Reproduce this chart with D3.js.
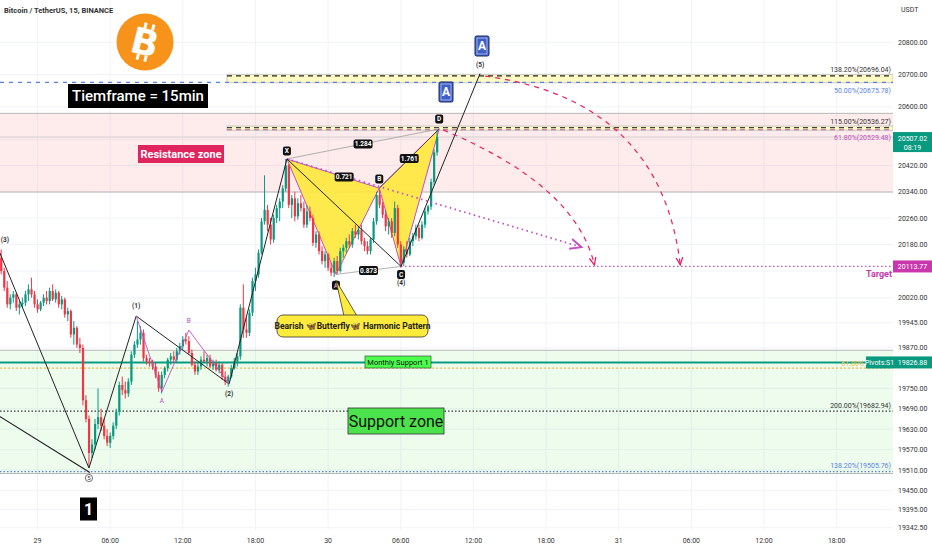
<!DOCTYPE html>
<html><head><meta charset="utf-8">
<script src="https://cdn.jsdelivr.net/npm/d3@7"></script>
<style>body{margin:0;background:#fff;} svg{display:block;font-family:Roboto,"DejaVu Sans",sans-serif;}</style>
</head><body><svg id="c" width="932" height="550"></svg>
<script>
// ---------- DATA (15-min candles, starting 28th 21:00) ----------
const opens=[20140,20100,20050,20000,20020,20030,19990,20000,20005,20030,
20045,20030,20000,19985,20005,20020,20010,20040,20015,20035,
20000,20015,19970,19980,19910,19930,19880,19870,19715,19660,
19560,19585,19645,19665,19640,19610,19590,19610,19640,19680,
19760,19745,19735,19770,19850,19880,19895,19915,19840,19830,
19825,19815,19790,19750,19790,19810,19835,19845,19835,19860,
19875,19895,19890,19855,19820,19800,19815,19835,19830,19840,
19815,19825,19805,19820,19785,19770,19785,19810,19830,19845,
19990,19925,19915,19975,20070,20090,20155,20250,20285,20240,
20195,20260,20290,20310,20350,20420,20300,20320,20265,20305,
20290,20240,20280,20260,20185,20210,20160,20130,20150,20110,
20095,20130,20100,20160,20170,20190,20180,20220,20210,20225,
20190,20175,20160,20195,20250,20330,20300,20270,20235,20250,
20215,20290,20180,20125,20165,20150,20190,20205,20230,20200,
20240,20280,20295,20370,20460];
const highs=[20165,20110,20070,20030,20040,20035,20010,20020,20040,20060,
20080,20040,20015,20010,20030,20040,20050,20060,20045,20040,
20025,20020,19990,19985,19950,19935,19900,19880,19730,19670,
19600,19660,19750,19690,19660,19630,19620,19650,19690,19770,
19785,19770,19780,19860,19890,19950,19935,19925,19850,19840,
19835,19825,19800,19800,19815,19840,19855,19860,19870,19885,
19905,19915,19905,19865,19830,19825,19845,19860,19850,19850,
19835,19835,19830,19825,19800,19790,19820,19840,19855,20000,
20060,19960,19985,20080,20110,20165,20260,20390,20300,20260,
20270,20300,20320,20360,20440,20425,20330,20340,20320,20330,
20310,20300,20295,20270,20220,20220,20175,20160,20155,20125,
20140,20145,20170,20180,20200,20210,20230,20240,20235,20240,
20200,20190,20200,20260,20340,20345,20310,20285,20260,20260,
20310,20300,20190,20175,20190,20200,20215,20240,20240,20250,
20290,20300,20380,20470,20530];
const lows=[20090,20040,19990,19985,20005,19980,19970,19990,19995,20010,
20020,19990,19975,19980,19995,20000,20000,20010,20005,19990,
19985,19960,19950,19900,19880,19870,19855,19700,19650,19520,
19545,19570,19630,19625,19600,19580,19575,19600,19630,19670,
19730,19720,19725,19760,19840,19870,19880,19830,19820,19815,
19805,19780,19740,19735,19780,19800,19820,19825,19825,19850,
19865,19880,19850,19815,19790,19790,19805,19825,19815,19810,
19805,19800,19795,19775,19760,19755,19780,19805,19815,19835,
19900,19900,19905,19965,20040,20080,20150,20240,20220,20180,
20185,20245,20250,20290,20340,20290,20260,20250,20255,20280,
20230,20230,20250,20175,20170,20150,20120,20110,20100,20085,
20082,20090,20095,20140,20155,20170,20170,20200,20195,20180,
20160,20150,20150,20185,20240,20290,20260,20220,20210,20200,
20205,20170,20110,20115,20140,20145,20175,20195,20190,20195,
20230,20270,20285,20360,20450];
const closes=[20100,20050,20000,20020,20030,19990,20000,20005,20030,20045,
20030,20000,19985,20005,20020,20010,20040,20015,20035,20000,
20015,19970,19980,19910,19930,19880,19870,19715,19660,19560,
19585,19645,19665,19640,19610,19590,19610,19640,19680,19760,
19745,19735,19770,19850,19880,19895,19915,19840,19830,19825,
19815,19790,19750,19790,19810,19835,19845,19835,19860,19875,
19895,19890,19855,19820,19800,19815,19835,19830,19840,19815,
19825,19805,19820,19785,19770,19785,19810,19830,19845,19990,
19925,19915,19975,20070,20090,20155,20250,20285,20240,20195,
20260,20290,20310,20350,20420,20300,20320,20265,20305,20290,
20240,20280,20260,20185,20210,20160,20130,20150,20110,20095,
20130,20100,20160,20170,20190,20180,20220,20210,20225,20190,
20175,20160,20195,20250,20330,20300,20270,20235,20250,20215,
20290,20180,20125,20165,20150,20190,20205,20230,20200,20240,
20280,20295,20370,20460,20507.02];

const gridTicks=[20800,20700,20600,20500,20420,20340,20260,20180,20100,20020,19945,19870,19810,19750,19690,19630,19570,19510,19450,19395,19342.5];
const priceTickLabels=[20800,20700,20600,20420,20340,20260,20180,20020,19945,19870,19750,19690,19630,19570,19510,19450,19395,19342.5];
const timeTickLabels=["29","06:00","12:00","18:00","30","06:00","12:00","18:00","31","06:00","12:00","18:00"];

// Fibonacci levels
const fibPrices=[20696.04,20675.78,20536.27,20529.48,19682.94,19505.76];
const fibLabels=["138.20%(20696.04)","50.00%(20675.78)","115.00%(20536.27)","61.80%(20529.48)","200.00%(19682.94)","138.20%(19505.76)"];
const resistanceZone=[20339,20580];
const supportZone=[19500,19863];
const pivotS1=19826.88, fibGold=19810, targetPrice=20113.77, lastPrice=20507.02;

// harmonic XABCD: [bar index, price]
const harmonicNames=["X","A","B","C","D"];
const harmonicPts=[[94.4,20440],[110.6,20090],[124.9,20351],[132.1,20113.77],[144.7,20532]];
const harmonicRatios=["0.721","0.873","1.761","1.284"];
// Elliott waves
const waveNames=["(3)","5","(1)","(2)","(3)","(4)","(5)"];
const wavePts=[[-2.5,20200],[29,19516],[44.6,19965],[75.3,19763],[94.4,20440],[132.1,20113.77],[158.2,20703]];
const abcPts=[[44.6,19965],[53.1,19740],[62,19923],[75.3,19763]];
const trendPts=[[-1,19670],[29.3,19503]];
const xbExtEnd=[191.3,20173];
const curve1=[[146,20529],[189.6,20361],[195.9,20121]];
const curve2=[[159.9,20695],[217.7,20621],[224.3,20121]];

// ---------- SCALES ----------
const svg=d3.select('#c');
const plotR=893, plotB=530;
const t0=Date.UTC(2022,9,28,21,0), barMs=15*60*1000;
const tOf=i=>new Date(t0+i*barMs);
const x=d3.scaleUtc().domain([new Date(Date.UTC(2022,9,29)),new Date(Date.UTC(2022,9,31))]).range([37.5,618.7]);
const y=d3.scaleLog().domain([19342.5,20800]).range([527.7,42.3]);
const X=i=>x(tOf(i)), Y=p=>y(p);
const timeTicks=d3.range(12).map(k=>new Date(Date.UTC(2022,9,29)+k*6*3600*1000));

svg.append('rect').attr('width',932).attr('height',550).attr('fill','#fff');
const defs=svg.append('defs');
defs.append('clipPath').attr('id','pc').append('rect').attr('x',0).attr('y',0).attr('width',plotR).attr('height',plotB);
function arrowMarker(id,color){
  defs.append('marker').attr('id',id).attr('viewBox','0 0 10 10').attr('refX',8).attr('refY',5)
   .attr('markerWidth',7).attr('markerHeight',7).attr('orient','auto')
   .append('path').attr('d','M0,1 L9,5 L0,9').attr('fill','none').attr('stroke',color).attr('stroke-width',1.5);
}
arrowMarker('arR','#e91e63'); arrowMarker('arP','#c34fc0');

const g=svg.append('g').attr('clip-path','url(#pc)');
// grid
g.selectAll('.hg').data(gridTicks).join('line').attr('x1',0).attr('x2',plotR)
 .attr('y1',d=>Y(d)).attr('y2',d=>Y(d)).attr('stroke','#f0f3fa');
g.selectAll('.vg').data(timeTicks).join('line').attr('y1',0).attr('y2',plotB)
 .attr('x1',d=>x(d)).attr('x2',d=>x(d)).attr('stroke','#f0f3fa');

// zones
function zone(z,fill){
  g.append('rect').attr('x',0).attr('width',plotR).attr('y',Y(z[1])).attr('height',Y(z[0])-Y(z[1])).attr('fill',fill);
  [z[0],z[1]].forEach(p=>g.append('line').attr('x1',0).attr('x2',plotR).attr('y1',Y(p)).attr('y2',Y(p)).attr('stroke','#b8b8b8').attr('stroke-width',1));
}
zone(resistanceZone,'rgba(242,54,69,0.10)');
zone(supportZone,'rgba(60,220,60,0.09)');

// current price line
g.append('line').attr('x1',0).attr('x2',plotR).attr('y1',Y(lastPrice)).attr('y2',Y(lastPrice)).attr('stroke','#d0d0d0');

// fib yellow bands
const bandX0=X(74.6);
[[fibPrices[0],fibPrices[1]],[fibPrices[2],fibPrices[3]]].forEach(b=>{
  g.append('rect').attr('x',bandX0).attr('width',plotR-bandX0).attr('y',Y(b[0])-1.5).attr('height',Y(b[1])-Y(b[0])+2)
   .attr('fill','#fff9c4').attr('stroke','#bdbdbd').attr('stroke-width',0.8);
});
function hline(p,x0,color,dash,w){
  g.append('line').attr('x1',x0).attr('x2',plotR).attr('y1',Y(p)).attr('y2',Y(p))
   .attr('stroke',color).attr('stroke-width',w||1).attr('stroke-dasharray',dash);
}
hline(fibPrices[0],bandX0,'#222','5,4',1.3);
hline(fibPrices[1],0,'#5b7fe0','4,5',1.3);
hline(fibPrices[2],bandX0,'#444','5,4',1.3);
hline(fibPrices[3],bandX0,'#c060a0','5,4',1.1);
hline(fibPrices[4],0,'#333','1.5,2',1.3);
hline(fibPrices[5],0,'#5b7fe0','1.5,2',1.3);
hline(fibGold,0,'#f2c14e','2,2',1.3);
hline(pivotS1,0,'#089981',null,2);
hline(targetPrice,X(132.1),'#c34fc0','1.5,2.5',1.3);

// harmonic fills (under candles)
const hp=harmonicPts.map(d=>[X(d[0]),Y(d[1])]);
[[0,1,2],[2,3,4]].forEach(t=>{
  g.append('path').attr('d','M'+t.map(k=>hp[k].join(',')).join('L')+'Z')
   .attr('fill','#ffe83b').attr('fill-opacity',0.9).attr('stroke','#c34fc0').attr('stroke-width',1);
});

// candles
const bars=d3.range(opens.length);
const cg=g.append('g');
cg.selectAll('.w').data(bars).join('line').attr('x1',i=>X(i)).attr('x2',i=>X(i))
 .attr('y1',i=>Y(highs[i])).attr('y2',i=>Y(lows[i]))
 .attr('stroke',i=>closes[i]>=opens[i]?'#089981':'#f23645').attr('stroke-width',1);
cg.selectAll('.b').data(bars).join('rect').attr('x',i=>X(i)-1).attr('width',2.2)
 .attr('y',i=>Y(Math.max(opens[i],closes[i])))
 .attr('height',i=>Math.max(1,Math.abs(Y(opens[i])-Y(closes[i]))))
 .attr('fill',i=>closes[i]>=opens[i]?'#089981':'#f23645');

// harmonic ratio lines
const line=d3.line();
g.append('path').attr('d',line([hp[0],hp[4]])).attr('stroke','#9e9e9e').attr('fill','none').attr('stroke-width',0.8);
g.append('path').attr('d',line([hp[1],hp[3]])).attr('stroke','#9e9e9e').attr('fill','none').attr('stroke-width',0.8);
g.append('path').attr('d',line([hp[2],hp[4]])).attr('stroke','#333').attr('fill','none').attr('stroke-width',0.8);
g.append('path').attr('d',line([hp[0],[X(xbExtEnd[0]),Y(xbExtEnd[1])]])).attr('stroke','#c34fc0').attr('fill','none')
 .attr('stroke-width',1.8).attr('stroke-dasharray','1.5,3.5').attr('marker-end','url(#arP)');

// Elliott lines
const wp=wavePts.map(d=>[X(d[0]),Y(d[1])]);
g.append('path').attr('d',line(wp)).attr('stroke','#222').attr('fill','none').attr('stroke-width',1);
g.append('path').attr('d',line(trendPts.map(d=>[X(d[0]),Y(d[1])]))).attr('stroke','#222').attr('fill','none').attr('stroke-width',1.2);
g.append('path').attr('d',line(abcPts.map(d=>[X(d[0]),Y(d[1])]))).attr('stroke','#c34fc0').attr('fill','none').attr('stroke-width',0.9);

// curved projections
[curve1,curve2].forEach(c=>{
  const p=c.map(d=>[X(d[0]),Y(d[1])]);
  g.append('path').attr('d',`M${p[0]}Q${p[1]} ${p[2]}`).attr('fill','none').attr('stroke','#e91e63')
   .attr('stroke-width',1.2).attr('stroke-dasharray','5,5').attr('marker-end','url(#arR)');
});

// ---------- LABELS ----------
function box(cx,cy,w,h,fill,text,opt){
  opt=opt||{};
  svg.append('rect').attr('x',cx-w/2).attr('y',cy-h/2).attr('width',w).attr('height',h).attr('rx',opt.rx||0)
   .attr('fill',fill).attr('stroke',opt.stroke||'none').attr('stroke-width',opt.sw||1);
  svg.append('text').attr('x',cx).attr('y',cy).attr('dy','0.35em').attr('text-anchor','middle')
   .attr('font-size',opt.fs||8).attr('font-weight',opt.fw||'normal').attr('fill',opt.color||'#fff')
   .attr('font-family',opt.ff||null).text(text);
}
// harmonic point labels
const hOff=[-8,11,-9,8,-10];
harmonicNames.forEach((n,k)=>box(hp[k][0],hp[k][1]+hOff[k],8,9,'#111',n,{rx:2,fs:6.5,fw:'bold',color:n==='A'?'#f48fb1':'#fff'}));
// ratio labels
const mid=(a,b,t)=>[a[0]+(b[0]-a[0])*t,a[1]+(b[1]-a[1])*t];
[[hp[0],hp[2],0.62],[hp[1],hp[3],0.5],[hp[2],hp[4],0.5],[hp[0],hp[4],0.5]].forEach((s,k)=>{
  const m=mid(s[0],s[1],s[2]); box(m[0],m[1],19,9,'#111',harmonicRatios[k],{rx:2,fs:6.5,fw:'bold'});
});
// wave labels
const wOff=[2,10,-10,10,0,16,-9];
waveNames.forEach((n,k)=>{
  if(k===4) return;
  if(n==='5'){
    svg.append('circle').attr('cx',wp[k][0]).attr('cy',wp[k][1]+10).attr('r',3.6).attr('fill','none').attr('stroke','#333').attr('stroke-width',0.7);
    svg.append('text').attr('x',wp[k][0]).attr('y',wp[k][1]+10).attr('dy','0.35em').attr('text-anchor','middle').attr('font-size',6).attr('fill','#333').text(n);
    return;
  }
  const px=Math.max(wp[k][0],5);
  svg.append('text').attr('x',px).attr('y',wp[k][1]+wOff[k]).attr('dy','0.35em').attr('text-anchor','middle')
   .attr('font-size',6.5).attr('font-weight','bold').attr('fill','#333').text(n);
});
const ap=abcPts.map(d=>[X(d[0]),Y(d[1])]);
svg.append('text').attr('x',ap[1][0]).attr('y',ap[1][1]+11).attr('text-anchor','middle').attr('font-size',6.5).attr('fill','#c34fc0').text('A');
svg.append('text').attr('x',ap[2][0]).attr('y',ap[2][1]-7).attr('text-anchor','middle').attr('font-size',6.5).attr('fill','#c34fc0').text('B');

// callout
svg.append('path').attr('d',`M${hp[1][0]},${hp[1][1]+6}L${hp[1][0]+8},316L${hp[1][0]+21},316Z`).attr('fill','#ffeb3b').attr('stroke','#333').attr('stroke-width',0.8);
box(352.5,326,151,22,'#ffeb3b','Bearish 🦋Butterfly🦋 Harmonic Pattern',{rx:6,stroke:'#333',sw:0.8,color:'#222',fs:8.5,fw:'bold'});

// fib labels
const fibColors=['#333','#5b7fe0','#333','#c34fc0','#333','#5b7fe0'];
const fibDy=[-6,8,-6,8,-6,-6];
fibPrices.forEach((p,k)=>svg.append('text').attr('x',891).attr('y',Y(p)+fibDy[k]).attr('dy','0.35em').attr('text-anchor','end')
  .attr('font-size',7).attr('fill',fibColors[k]).text(fibLabels[k]));
svg.append('text').attr('x',864).attr('y',Y(pivotS1)+1).attr('dy','0.35em').attr('text-anchor','end').attr('font-size',7).attr('fill','#f2c14e').text('61.80%');

// text boxes
box(138,96,140,24,'#000','Tiemframe = 15min',{fs:15,fw:'500'});
box(181,154,86,18,'#e0245e','Resistance zone',{fs:11,fw:'bold'});
box(396,421,96,26,'#4ce24c','Support zone',{fs:16,color:'#111',stroke:'#333',sw:0.8});
box(398,362,66,12,'#4cff4c','Monthly Support 1',{fs:7.5,color:'#111',stroke:'#333',sw:0.6});
box(88.5,509,17,23,'#000','1',{fs:16,fw:'bold'});
// blue A icons
[[482,46],[446,92]].forEach(c=>{
  svg.append('rect').attr('x',c[0]-7).attr('y',c[1]-10).attr('width',14).attr('height',20).attr('rx',1.5).attr('fill','#3f5fc8').attr('stroke','#1a2a5e').attr('stroke-width',1);
  svg.append('rect').attr('x',c[0]-5).attr('y',c[1]-8).attr('width',10).attr('height',16).attr('fill','none').attr('stroke','#dfe6ff').attr('stroke-width',0.6);
  svg.append('text').attr('x',c[0]).attr('y',c[1]).attr('dy','0.36em').attr('text-anchor','middle').attr('font-size',12).attr('font-weight','bold').attr('fill','#fff').text('A');
});
// bitcoin logo
svg.append('circle').attr('cx',145).attr('cy',42).attr('r',28.5).attr('fill','#f7931a');
const bt=svg.append('g').attr('transform','translate(145,42) rotate(14)');
bt.append('text').attr('x',0).attr('y',0).attr('dy','0.36em').attr('text-anchor','middle').attr('font-size',36).attr('font-weight','bold').attr('fill','#fff').attr('font-family','DejaVu Sans').text('B');
[-5,3].forEach(dx=>{bt.append('rect').attr('x',dx).attr('y',-19).attr('width',3).attr('height',6).attr('fill','#fff');
  bt.append('rect').attr('x',dx).attr('y',13).attr('width',3).attr('height',6).attr('fill','#fff');});

// title
svg.append('text').attr('x',4).attr('y',13).attr('font-size',7.5).attr('font-weight','bold').attr('fill','#333').text('Bitcoin / TetherUS, 15, BINANCE');
svg.append('text').attr('x',901).attr('y',12).attr('font-size',7).attr('fill','#333').text('USDT');

// price axis
svg.selectAll('.pt').data(priceTickLabels).join('text').attr('x',898).attr('y',d=>Y(d)).attr('dy','0.35em')
 .attr('font-size',7).attr('fill','#333').text(d=>d3.format('.2f')(d));
// time axis
svg.selectAll('.tt').data(timeTicks).join('text').attr('x',d=>x(d)).attr('y',543).attr('text-anchor','middle')
 .attr('font-size',7).attr('fill','#333').text((d,k)=>timeTickLabels[k]);

// price tags
function tag(p,fill,lines,x0,w){
  const h=lines.length>1?20:12; const cy=Y(p)+(lines.length>1?5:0);
  svg.append('rect').attr('x',x0).attr('y',cy-h/2).attr('width',w).attr('height',h).attr('fill',fill);
  lines.forEach((t,k)=>svg.append('text').attr('x',x0+w/2).attr('y',cy+(lines.length>1?(k?5:-4):0)).attr('dy','0.35em')
   .attr('text-anchor','middle').attr('font-size',7).attr('fill','#fff').text(t));
}
tag(lastPrice,'#089981',[d3.format('.2f')(lastPrice),'08:19'],893,39);
tag(targetPrice,'#c837ab',[d3.format('.2f')(targetPrice)],893,39);
tag(pivotS1,'#089981',[d3.format('.2f')(pivotS1)],893,39);
tag(pivotS1,'#089981',['Pivots:S1'],866,27);
svg.append('text').attr('x',879).attr('y',277).attr('text-anchor','middle').attr('font-size',9).attr('font-weight','bold').attr('fill','#c837ab').text('Target');
</script></body></html>
